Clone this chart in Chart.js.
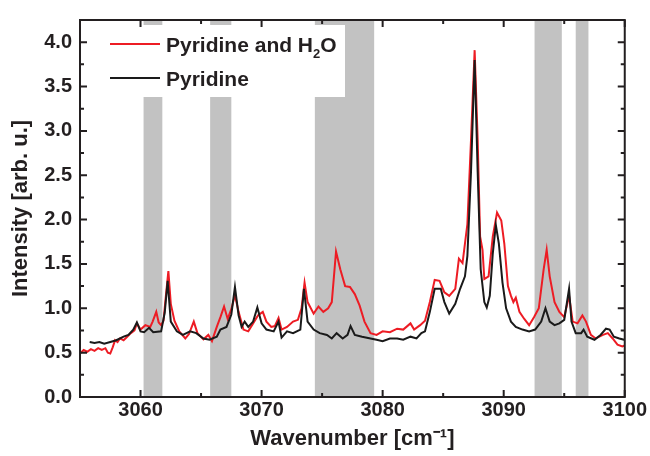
<!DOCTYPE html>
<html>
<head>
<meta charset="utf-8">
<script src="https://cdn.jsdelivr.net/npm/chart.js@4.4.0/dist/chart.umd.min.js"></script>
<style>
  html, body { margin: 0; padding: 0; background: #fff; }
  canvas { display: block; }
</style>
</head>
<body>
<canvas id="spectrum-chart" width="650" height="456"></canvas>
<script>
/* ---- data ---- */

// Pyridine and H2O (red)
var mixX = [3055.0, 3055.3, 3055.6, 3055.9, 3056.2, 3056.5, 3056.8, 3057.1, 3057.3, 3057.5,
            3057.7, 3057.9, 3058.1, 3058.3, 3058.6, 3058.9, 3059.2, 3059.5, 3059.7, 3060.0,
            3060.4, 3060.8, 3061.0, 3061.3, 3061.5, 3061.7, 3061.9, 3062.1, 3062.3, 3062.5,
            3062.8, 3063.2, 3063.7, 3064.0, 3064.4, 3064.7, 3065.2, 3065.6, 3065.9, 3066.3,
            3066.6, 3066.9, 3067.2, 3067.5, 3067.8, 3068.1, 3068.5, 3068.9, 3069.3, 3069.7,
            3070.1, 3070.4, 3070.8, 3071.1, 3071.4, 3071.65, 3072.1, 3072.6, 3073.0, 3073.3,
            3073.55, 3073.8, 3074.3, 3074.7, 3075.1, 3075.5, 3075.8, 3076.15, 3076.5, 3076.9,
            3077.3, 3077.7, 3078.1, 3078.5, 3079.0, 3079.5, 3080.0, 3080.6, 3081.2, 3081.7,
            3082.3, 3082.6, 3083.1, 3083.5, 3083.9, 3084.3, 3084.7, 3085.1, 3085.5, 3086.0,
            3086.3, 3086.6, 3087.0, 3087.3, 3087.6, 3087.85, 3088.05, 3088.25, 3088.4, 3088.75,
            3089.1, 3089.45, 3089.8, 3090.05, 3090.35, 3090.6, 3090.8, 3091.0, 3091.3, 3091.7,
            3092.1, 3092.5, 3092.9, 3093.3, 3093.55, 3093.8, 3094.2, 3094.6, 3095.0, 3095.4,
            3095.7, 3096.1, 3096.5, 3096.8, 3097.2, 3097.6, 3098.2, 3098.6, 3099.0, 3099.4,
            3099.8, 3100.0];
var mixY = [0.49, 0.53, 0.51, 0.54, 0.52, 0.55, 0.53, 0.55, 0.50, 0.49,
            0.56, 0.64, 0.62, 0.66, 0.64, 0.68, 0.72, 0.75, 0.83, 0.76,
            0.81, 0.79, 0.85, 0.96, 0.84, 0.81, 0.86, 1.15, 1.42, 1.05,
            0.86, 0.74, 0.66, 0.71, 0.85, 0.72, 0.65, 0.70, 0.63, 0.79,
            0.90, 1.02, 0.88, 0.99, 1.15, 0.96, 0.76, 0.74, 0.83, 0.92,
            0.96, 0.85, 0.79, 0.80, 0.89, 0.76, 0.79, 0.85, 0.87, 1.00,
            1.29, 1.07, 0.94, 1.02, 0.96, 1.00, 1.07, 1.64, 1.44, 1.25,
            1.24, 1.16, 1.03, 0.85, 0.72, 0.70, 0.74, 0.73, 0.77, 0.76,
            0.83, 0.76, 0.81, 0.86, 1.07, 1.32, 1.31, 1.18, 1.14, 1.22,
            1.56, 1.51, 1.95, 2.90, 3.91, 2.90, 1.81, 1.66, 1.33, 1.36,
            1.81, 2.08, 1.99, 1.73, 1.25, 1.14, 1.07, 1.12, 0.96, 0.88,
            0.81, 0.90, 1.00, 1.44, 1.66, 1.36, 1.07, 0.96, 0.90, 1.14,
            0.85, 0.83, 0.92, 0.85, 0.70, 0.66, 0.70, 0.72, 0.66, 0.59,
            0.57, 0.58];

// Pyridine (black)
var pyrX = [3055.8, 3056.2, 3056.6, 3057.0, 3057.5, 3058.0, 3058.6, 3059.0, 3059.4, 3059.7,
            3060.0, 3060.3, 3060.7, 3061.05, 3061.7, 3062.0, 3062.24, 3062.5, 3063.0, 3063.5,
            3064.1, 3064.6, 3065.2, 3065.7, 3066.3, 3066.6, 3067.1, 3067.5, 3067.8, 3068.1,
            3068.35, 3068.6, 3068.9, 3069.3, 3069.65, 3070.0, 3070.4, 3071.0, 3071.4, 3071.65,
            3072.1, 3072.6, 3073.2, 3073.5, 3073.8, 3074.3, 3074.8, 3075.4, 3075.8, 3076.2,
            3076.7, 3077.1, 3077.35, 3077.7, 3078.3, 3079.0, 3079.5, 3080.0, 3080.6, 3081.2,
            3081.7, 3082.3, 3082.8, 3083.2, 3083.5, 3083.9, 3084.3, 3084.8, 3085.1, 3085.5,
            3086.0, 3086.4, 3086.8, 3087.0, 3087.3, 3087.6, 3087.85, 3088.1, 3088.4, 3088.6,
            3088.85, 3089.1, 3089.35, 3089.6, 3089.9, 3090.2, 3090.6, 3091.0, 3091.55, 3092.1,
            3092.6, 3093.1, 3093.45, 3093.8, 3094.2, 3094.6, 3095.0, 3095.4, 3095.6, 3095.95,
            3096.4, 3096.6, 3096.9, 3097.5, 3098.0, 3098.45, 3098.75, 3099.1, 3099.55, 3099.95];
var pyrY = [0.62, 0.61, 0.62, 0.60, 0.62, 0.64, 0.68, 0.70, 0.76, 0.84,
            0.74, 0.73, 0.78, 0.73, 0.74, 0.95, 1.31, 0.85, 0.74, 0.70,
            0.74, 0.72, 0.66, 0.645, 0.68, 0.76, 0.79, 0.93, 1.24, 0.92,
            0.79, 0.85, 0.79, 0.85, 1.01, 0.83, 0.76, 0.74, 0.85, 0.67,
            0.74, 0.72, 0.76, 1.22, 0.85, 0.76, 0.72, 0.70, 0.66, 0.72,
            0.66, 0.70, 0.80, 0.70, 0.68, 0.66, 0.645, 0.63, 0.66, 0.66,
            0.645, 0.68, 0.66, 0.72, 0.74, 0.96, 1.22, 1.22, 1.07, 0.94,
            1.05, 1.22, 1.36, 1.59, 2.54, 3.80, 2.54, 1.44, 1.07, 1.01,
            1.14, 1.62, 1.94, 1.73, 1.29, 1.00, 0.85, 0.79, 0.76, 0.74,
            0.76, 0.85, 1.00, 0.85, 0.81, 0.83, 0.87, 1.22, 0.85, 0.72,
            0.72, 0.76, 0.68, 0.645, 0.70, 0.77, 0.76, 0.68, 0.66, 0.645];

// shaded wavenumber windows
var bandStart = [3060.25, 3065.75, 3074.4, 3092.55, 3095.95];
var bandEnd   = [3061.8, 3067.5, 3079.3, 3094.8, 3097.0];

var seriesNames = ['Pyridine and H\u2082O', 'Pyridine'];

/* ---- helpers ---- */

function toPoints(xs, ys) {
    return xs.map(function(x, i) { return { x: x, y: ys[i] }; });
}

var FONT = "'Liberation Sans', Arial, Helvetica, sans-serif";
var INK  = '#231f20';

// gray windows + white legend box, drawn under the lines
var bandsPlugin = {
    id: 'bands',
    beforeDatasetsDraw: function(chart) {
        var ctx = chart.ctx, a = chart.chartArea, xs = chart.scales.x;
        ctx.save();
        ctx.fillStyle = '#c2c2c2';
        for (var i = 0; i < bandStart.length; i++) {
            var x0 = xs.getPixelForValue(bandStart[i]);
            var x1 = xs.getPixelForValue(bandEnd[i]);
            ctx.fillRect(x0, a.top, x1 - x0, a.bottom - a.top);
        }
        // legend backdrop
        ctx.fillStyle = '#ffffff';
        ctx.fillRect(a.left, 25, 345 - a.left, 72);

        // legend entries
        var rows = [44, 78];
        chart.data.datasets.forEach(function(ds, i) {
            var y = rows[i];
            ctx.strokeStyle = ds.borderColor;
            ctx.lineWidth = 2;
            ctx.beginPath();
            ctx.moveTo(110, y);
            ctx.lineTo(160, y);
            ctx.stroke();

            ctx.fillStyle = INK;
            ctx.textBaseline = 'alphabetic';
            ctx.textAlign = 'left';
            var parts = ds.label.split('\u2082');
            var x = 166, base = y + 8;
            ctx.font = 'bold 21px ' + FONT;
            ctx.fillText(parts[0], x, base);
            x += ctx.measureText(parts[0]).width;
            if (parts.length > 1) {
                ctx.font = 'bold 13px ' + FONT;
                ctx.fillText('2', x, base + 6);
                x += ctx.measureText('2').width;
                ctx.font = 'bold 21px ' + FONT;
                ctx.fillText(parts[1], x, base);
            }
        });
        ctx.restore();
    }
};

// box frame with inward ticks on all four sides
var framePlugin = {
    id: 'frame',
    afterDatasetsDraw: function(chart) {
        var ctx = chart.ctx, a = chart.chartArea;
        var xs = chart.scales.x, ys = chart.scales.y;
        ctx.save();
        ctx.strokeStyle = INK;
        ctx.lineWidth = 2;
        ctx.beginPath();
        for (var v = Math.ceil(xs.min / 5) * 5; v <= xs.max; v += 5) {
            var px = xs.getPixelForValue(v);
            var len = (v % 10 === 0) ? 7 : 4;
            ctx.moveTo(px, a.bottom); ctx.lineTo(px, a.bottom - len);
            ctx.moveTo(px, a.top);    ctx.lineTo(px, a.top + len);
        }
        for (var k = 0; k * 0.25 <= ys.max; k++) {
            var py = ys.getPixelForValue(k * 0.25);
            var l2 = (k % 2 === 0) ? 7 : 4;
            ctx.moveTo(a.left, py);  ctx.lineTo(a.left + l2, py);
            ctx.moveTo(a.right, py); ctx.lineTo(a.right - l2, py);
        }
        ctx.stroke();
        ctx.strokeRect(a.left, a.top, a.right - a.left, a.bottom - a.top);
        ctx.restore();
    }
};

new Chart(document.getElementById('spectrum-chart'), {
    type: 'line',
    data: {
        datasets: [
            {
                label: seriesNames[0],
                data: toPoints(mixX, mixY),
                borderColor: '#ed1c24',
                borderWidth: 2,
                pointRadius: 0,
                tension: 0,
                fill: false,
                order: 2
            },
            {
                label: seriesNames[1],
                data: toPoints(pyrX, pyrY),
                borderColor: '#1a1a1a',
                borderWidth: 2,
                pointRadius: 0,
                tension: 0,
                fill: false,
                order: 1
            }
        ]
    },
    options: {
        responsive: false,
        animation: false,
        devicePixelRatio: 1,
        layout: { padding: { left: 0, top: 13, right: 25, bottom: 0 } },
        plugins: {
            legend: { display: false },
            tooltip: { enabled: false }
        },
        scales: {
            x: {
                type: 'linear',
                min: 3055,
                max: 3100,
                grid: { display: false, drawTicks: false },
                border: { display: false },
                ticks: {
                    stepSize: 10,
                    includeBounds: false,
                    padding: 3,
                    color: INK,
                    font: { family: FONT, size: 20, weight: 'bold', lineHeight: 1 },
                    maxRotation: 0,
                    callback: function(v) { return String(v); }
                },
                title: {
                    display: true,
                    text: 'Wavenumber [cm\u207B\u00B9]',
                    color: INK,
                    font: { family: FONT, size: 22, weight: 'bold' },
                    padding: { top: 4, bottom: 4 }
                },
                afterFit: function(s) { s.height = 59; }
            },
            y: {
                min: 0,
                max: 4.25,
                grid: { display: false, drawTicks: false },
                border: { display: false },
                ticks: {
                    stepSize: 0.5,
                    includeBounds: false,
                    padding: 8,
                    color: INK,
                    font: { family: FONT, size: 20, weight: 'bold' },
                    callback: function(v) { return v.toFixed(1); }
                },
                title: {
                    display: true,
                    text: 'Intensity [arb. u.]',
                    color: INK,
                    font: { family: FONT, size: 22, weight: 'bold' },
                    padding: { top: 8, bottom: 4 }
                },
                afterFit: function(s) { s.width = 80; }
            }
        }
    },
    plugins: [bandsPlugin, framePlugin]
});
</script>
</body>
</html>
